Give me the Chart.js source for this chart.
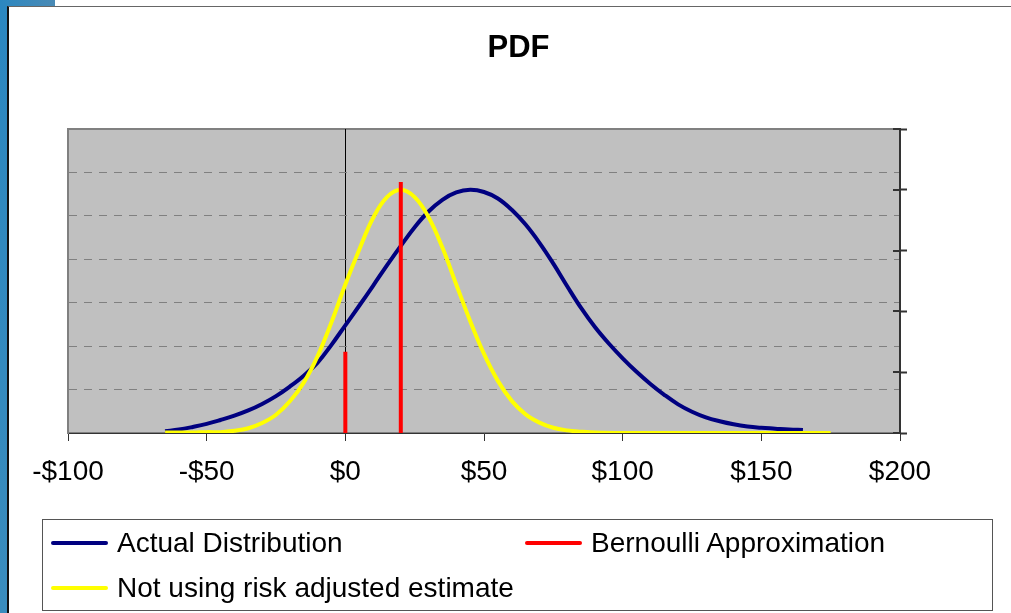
<!DOCTYPE html>
<html>
<head>
<meta charset="utf-8">
<script src="https://cdn.jsdelivr.net/npm/chart.js@4.4.1/dist/chart.umd.min.js"></script>
<style>
  html, body { margin: 0; padding: 0; background: #fff; width: 1011px; height: 613px; overflow: hidden; }
  #blueLeft { position: absolute; left: 0; top: 0; width: 8px; height: 613px; background: linear-gradient(180deg, #2b87c0, #3a8cbd); }
  #blueTop { position: absolute; left: 0; top: 0; width: 55px; height: 6px; background: linear-gradient(90deg, #2b87c0, #4a8ab5); }
  #frame { position: absolute; left: 7px; top: 6px; width: 1100px; height: 700px; border-left: 2px solid #111; border-top: 1px solid #666; background: #fff; }
  #chart { position: absolute; left: 0; top: 0; }
  #legend { position: absolute; left: 42px; top: 519px; width: 951px; height: 92px; box-sizing: border-box; border: 1px solid #555;
            display: grid; grid-template-columns: 474px 474px; grid-template-rows: 45px 45px; padding-left: 8px;
            font-family: "Liberation Sans", Arial, sans-serif; font-size: 28px; color: #000; }
  .item { display: flex; align-items: center; white-space: nowrap; }
  .swatch { display: inline-block; width: 57px; height: 4px; border-radius: 2px; margin-right: 9px; }
</style>
</head>
<body>
<div id="blueLeft"></div>
<div id="blueTop"></div>
<div id="frame"></div>
<canvas id="chart" width="1011" height="613"></canvas>
<div id="legend"></div>
<script>
// ---- data ----
const chartTitle = "PDF";
const xTickValues = [-100, -50, 0, 50, 100, 150, 200];

const actualLabel = "Actual Distribution";
const actualX = [-65,-60,-55,-50,-45,-40,-35,-30,-25,-20,-15,-10,-5,0,5,10,15,20,25,30,35,40,45,50,55,60,65,70,75,80,85,90,95,100,105,110,115,120,125,130,135,140,145,150,155,160,165];
const actualY = [0.04,0.08,0.14,0.21,0.30,0.40,0.52,0.67,0.85,1.07,1.32,1.62,2.03,2.48,2.93,3.39,3.86,4.31,4.74,5.10,5.37,5.54,5.60,5.55,5.40,5.14,4.80,4.38,3.90,3.38,2.88,2.44,2.06,1.72,1.41,1.13,0.88,0.66,0.49,0.36,0.27,0.20,0.15,0.12,0.10,0.08,0.07];

const bernoulliLabel = "Bernoulli Approximation";
const bernoulliX = [0, 20];
const bernoulliY = [1.87, 5.78];

const naiveLabel = "Not using risk adjusted estimate";
const naiveX = [-65,-60,-55,-50,-45,-40,-35,-30,-25,-20,-15,-10,-5,0,5,10,15,20,25,30,35,40,45,50,55,60,65,70,75,80,85,90,100,125,150,175];
const naiveY = [0.01,0.01,0.01,0.02,0.02,0.05,0.11,0.23,0.42,0.73,1.16,1.77,2.55,3.42,4.22,4.95,5.43,5.60,5.43,4.97,4.27,3.42,2.58,1.82,1.20,0.74,0.43,0.24,0.12,0.06,0.03,0.01,0,0,0,0];

// ---- build library data ----
const toPoints = (xs, ys) => xs.map((x, i) => ({ x: x, y: ys[i] }));
const spikePoints = [];
bernoulliX.forEach((x, i) => {
  spikePoints.push({ x: x, y: 0 }, { x: x, y: bernoulliY[i] });
  if (i < bernoulliX.length - 1) spikePoints.push({ x: x, y: null });
});

Chart.defaults.font.family = '"Liberation Sans", Arial, sans-serif';
Chart.defaults.color = '#000';

const plotBg = {
  id: 'plotBg',
  beforeDraw(chart) {
    const { ctx, chartArea: a } = chart;
    ctx.save();
    ctx.fillStyle = '#C0C0C0';
    ctx.fillRect(a.left, a.top, a.right - a.left, a.bottom - a.top);
    ctx.strokeStyle = '#808080';
    ctx.lineWidth = 2;
    ctx.strokeRect(a.left, a.top, a.right - a.left, a.bottom - a.top);
    ctx.restore();
  }
};
const innerTicks = {
  id: 'innerTicks',
  afterDraw(chart) {
    const s = chart.scales.y2, ctx = chart.ctx;
    ctx.save();
    ctx.strokeStyle = '#333';
    ctx.lineWidth = 2;
    s.ticks.forEach(t => {
      const py = Math.round(s.getPixelForValue(t.value));
      ctx.beginPath();
      ctx.moveTo(chart.chartArea.right - 7, py);
      ctx.lineTo(chart.chartArea.right, py);
      ctx.stroke();
    });
    ctx.restore();
  }
};

const chart = new Chart(document.getElementById('chart'), {
  type: 'line',
  data: {
    datasets: [
      { label: actualLabel, data: toPoints(actualX, actualY), borderColor: '#000080', borderWidth: 4,
        pointRadius: 0, tension: 0.4, order: 3, yAxisID: 'y' },
      { label: bernoulliLabel, data: spikePoints, borderColor: '#FF0000', borderWidth: 4,
        pointRadius: 0, tension: 0, spanGaps: false, order: 1, yAxisID: 'y' },
      { label: naiveLabel, data: toPoints(naiveX, naiveY), borderColor: '#FFFF00', borderWidth: 4,
        pointRadius: 0, tension: 0.4, order: 2, yAxisID: 'y' }
    ]
  },
  options: {
    responsive: false,
    animation: false,
    devicePixelRatio: 1,
    layout: { padding: { left: 26, right: 0, top: 0, bottom: 120 } },
    plugins: {
      legend: { display: false },
      tooltip: { enabled: false },
      title: { display: true, text: chartTitle, color: '#000',
               font: { size: 31, weight: 'bold', lineHeight: 1.2 }, padding: { top: 30, bottom: 61.8 } }
    },
    scales: {
      x: {
        type: 'linear', min: -100, max: 200,
        afterBuildTicks: s => { s.ticks = xTickValues.map(v => ({ value: v })); },
        afterFit: s => { s.height = 60; },
        ticks: { font: { size: 28, lineHeight: 1.2 }, padding: 14, maxRotation: 0, autoSkip: false, color: '#000',
                 callback: v => (v < 0 ? '-$' : '$') + Math.abs(v) },
        grid: { color: c => (c.tick && c.tick.value === 0) ? '#000' : 'rgba(0,0,0,0)', lineWidth: 1,
                tickColor: '#333', tickLength: 8, tickWidth: 1 },
        border: { color: '#333', width: 1 }
      },
      y: {
        position: 'left', min: 0, max: 7,
        ticks: { display: false, stepSize: 1 },
        afterFit: s => { s.width = 42; },
        grid: { color: c => (c.tick && (c.tick.value === 0 || c.tick.value === 7)) ? 'rgba(0,0,0,0)' : '#808080',
                lineWidth: 1, drawTicks: false },
        border: { color: '#808080', width: 2, dash: [8, 7] }
      },
      y2: {
        position: 'right', min: 0, max: 5,
        ticks: { display: false, stepSize: 1 },
        afterFit: s => { s.width = 111; },
        grid: { drawOnChartArea: false, drawTicks: true, tickLength: 7, tickColor: '#333', tickWidth: 2 },
        border: { color: '#333', width: 2 }
      }
    }
  },
  plugins: [plotBg, innerTicks]
});

// HTML legend built from the chart's datasets (Excel-style two-column layout)
const legendEl = document.getElementById('legend');
chart.data.datasets.forEach(ds => {
  const item = document.createElement('div');
  item.className = 'item';
  const sw = document.createElement('span');
  sw.className = 'swatch';
  sw.style.background = ds.borderColor;
  const tx = document.createElement('span');
  tx.textContent = ds.label;
  item.appendChild(sw);
  item.appendChild(tx);
  legendEl.appendChild(item);
});
</script>
</body>
</html>
